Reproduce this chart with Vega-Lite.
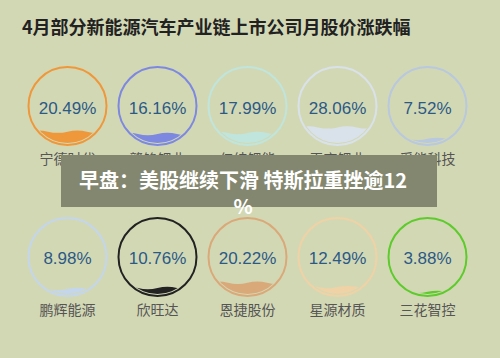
{
  "$schema": "https://vega.github.io/schema/vega-lite/v6.json",
  "width": 500,
  "height": 358,
  "autosize": {"type": "none"},
  "padding": 0,
  "background": "#d3d8b4",
  "config": {"view": {"stroke": null}},
  "title": {
    "text": "4月部分新能源汽车产业链上市公司月股价涨跌幅",
    "anchor": "start",
    "frame": "group",
    "offset": 0,
    "dx": 22,
    "dy": 47,
    "baseline": "middle",
    "font": "Noto Sans CJK SC",
    "fontSize": 18,
    "fontWeight": "bold",
    "color": "#222222"
  },
  "datasets": {
    "stocks": [
      {"name": "宁德时代", "value": 20.49},
      {"name": "赣锋锂业", "value": 16.16},
      {"name": "亿纬锂能", "value": 17.99},
      {"name": "天齐锂业", "value": 28.06},
      {"name": "孚能科技", "value": 7.52},
      {"name": "鹏辉能源", "value": 8.98},
      {"name": "欣旺达", "value": 10.76},
      {"name": "恩捷股份", "value": 20.22},
      {"name": "星源材质", "value": 12.49},
      {"name": "三花智控", "value": 3.88}
    ],
    "news": [
      {"headline": ["早盘：美股继续下滑 特斯拉重挫逾12", "%"]}
    ]
  },
  "layer": [
    {
      "data": {"name": "stocks"},
      "transform": [
        {"window": [{"op": "row_number", "as": "idx"}]},
        {"calculate": "(datum.idx - 1) % 5", "as": "col"},
        {"calculate": "floor((datum.idx - 1) / 5)", "as": "row"},
        {"calculate": "67.5 + 90 * datum.col", "as": "cx"},
        {"calculate": "106 + 151 * datum.row", "as": "cy"},
        {"calculate": "datum.cy + 37 - 74 * 0.75 * datum.value / 100", "as": "level"},
        {"calculate": "format(datum.value, '.2f') + '%'", "as": "label"}
      ],
      "encoding": {
        "x": {"field": "cx", "type": "quantitative", "scale": {"domain": [0, 500], "nice": false, "zero": false}, "axis": null},
        "y": {"field": "cy", "type": "quantitative", "scale": {"domain": [0, 358], "nice": false, "zero": false, "reverse": true}, "axis": null}
      },
      "layer": [
        {
          "mark": {"type": "point", "shape": "circle", "filled": true, "opacity": 1, "size": 5476, "strokeWidth": 0},
          "encoding": {
            "color": {
              "field": "name",
              "type": "nominal",
              "legend": null,
              "scale": {
                "domain": ["宁德时代", "赣锋锂业", "亿纬锂能", "天齐锂业", "孚能科技", "鹏辉能源", "欣旺达", "恩捷股份", "星源材质", "三花智控"],
                "range": ["#ef983b", "#7d89e0", "#bfe5dc", "#d9e2ea", "#b8c8de", "#c3d6ec", "#222222", "#daa979", "#efd2a6", "#5ccb2b"]
              }
            }
          }
        },
        {
          "mark": {"type": "point", "shape": "M-1,-2.05 L1,-2.05 L1,0 C0.83,0.04 0.67,0.04 0.5,0 C0.33,-0.04 0.17,-0.04 0,0 C-0.17,0.04 -0.33,0.04 -0.5,0 C-0.67,-0.04 -0.83,-0.04 -1,0 Z", "filled": true, "opacity": 1, "size": 6084, "strokeWidth": 0, "color": "#d3d8b4"},
          "encoding": {
            "y": {"field": "level", "type": "quantitative"}
          }
        },
        {
          "mark": {"type": "point", "shape": "circle", "filled": false, "opacity": 1, "size": 6084, "strokeWidth": 2},
          "encoding": {
            "color": {"field": "name", "type": "nominal", "legend": null}
          }
        },
        {
          "transform": [{"calculate": "datum.cy + 2 + (datum.row == 0 ? 1 : 0)", "as": "ty"}],
          "mark": {"type": "text", "font": "Liberation Sans", "fontSize": 17, "color": "#2b5a87", "baseline": "middle", "align": "center"},
          "encoding": {
            "y": {"field": "ty", "type": "quantitative"},
            "text": {"field": "label"}
          }
        },
        {
          "transform": [{"calculate": "datum.cy + 54", "as": "ny"}],
          "mark": {"type": "text", "font": "Noto Sans CJK SC", "fontSize": 14, "color": "#555555", "baseline": "middle", "align": "center"},
          "encoding": {
            "y": {"field": "ny", "type": "quantitative"},
            "text": {"field": "name"}
          }
        }
      ]
    },
    {
      "data": {"name": "news"},
      "mark": {"type": "rect", "color": "#84876f", "opacity": 1},
      "encoding": {
        "x": {"datum": 61, "type": "quantitative"},
        "x2": {"datum": 437},
        "y": {"datum": 155, "type": "quantitative"},
        "y2": {"datum": 207}
      }
    },
    {
      "data": {"name": "news"},
      "mark": {"type": "text", "font": "Noto Sans CJK SC", "fontSize": 20, "fontWeight": "bold", "color": "#ffffff", "align": "center", "baseline": "middle", "lineHeight": 26},
      "encoding": {
        "x": {"datum": 243, "type": "quantitative"},
        "y": {"datum": 182, "type": "quantitative"},
        "text": {"field": "headline"}
      }
    }
  ]
}
